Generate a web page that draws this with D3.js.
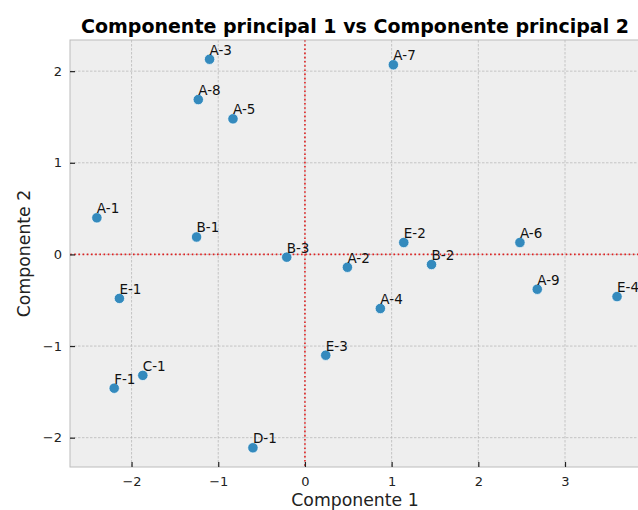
<!DOCTYPE html>
<html>
<head>
<meta charset="utf-8">
<script src="https://cdn.jsdelivr.net/npm/d3@7"></script>
<style>
  html, body { margin: 0; padding: 0; background: #fff; overflow: hidden; }
  text { font-family: "DejaVu Sans", sans-serif; }
</style>
</head>
<body>
<svg id="chart" width="638" height="510"></svg>
<script>
const labels = ["A-1","A-2","A-3","A-4","A-5","A-6","A-7","A-8","A-9","B-1","B-2","B-3","C-1","D-1","E-1","E-2","E-3","E-4","F-1"];
const pc1 = [-2.40, 0.49, -1.10, 0.87, -0.83, 2.48, 1.02, -1.23, 2.68, -1.25, 1.46, -0.21, -1.87, -0.60, -2.14, 1.14, 0.24, 3.60, -2.20];
const pc2 = [0.40, -0.14, 2.13, -0.59, 1.48, 0.13, 2.07, 1.69, -0.38, 0.19, -0.11, -0.03, -1.32, -2.11, -0.48, 0.13, -1.10, -0.46, -1.46];
const xTicks = [-2, -1, 0, 1, 2, 3];
const yTicks = [-2, -1, 0, 1, 2];
const title = "Componente principal 1 vs Componente principal 2";
const xLabel = "Componente 1";
const yLabel = "Componente 2";

const svg = d3.select("#chart");
const L = 70, R = 640, T = 40, B = 467;
const x = d3.scaleLinear().domain([-2.71, 3.865]).range([L, R]);
const y = d3.scaleLinear().domain([-2.32, 2.34]).range([B, T]);

// background
svg.append("rect").attr("x", L).attr("y", T).attr("width", R - L).attr("height", B - T).attr("fill", "#eeeeee");

// grid
const grid = svg.append("g");
grid.selectAll("line.gx").data(xTicks).join("line")
  .attr("x1", d => x(d)).attr("x2", d => x(d)).attr("y1", T).attr("y2", B)
  .attr("stroke", "#b2b2b2").attr("stroke-width", 0.7).attr("stroke-dasharray", "2.5,1.5");
grid.selectAll("line.gy").data(yTicks).join("line")
  .attr("y1", d => y(d)).attr("y2", d => y(d)).attr("x1", L).attr("x2", R)
  .attr("stroke", "#b2b2b2").attr("stroke-width", 0.7).attr("stroke-dasharray", "2.5,1.5");

// reference lines at 0
svg.append("line").attr("x1", x(0)).attr("x2", x(0)).attr("y1", T).attr("y2", B)
  .attr("stroke", "#e02020").attr("stroke-width", 1.6).attr("stroke-dasharray", "1.6,2.6");
svg.append("line").attr("y1", y(0)).attr("y2", y(0)).attr("x1", L).attr("x2", R)
  .attr("stroke", "#e02020").attr("stroke-width", 1.6).attr("stroke-dasharray", "1.6,2.6");

// border
svg.append("rect").attr("x", L).attr("y", T).attr("width", R - L).attr("height", B - T)
  .attr("fill", "none").attr("stroke", "#bcbcbc").attr("stroke-width", 1);

// axes (ticks inward)
const xAxis = d3.axisBottom(x).tickValues(xTicks).tickSizeInner(-5).tickSizeOuter(0).tickPadding(10)
  .tickFormat(d => d < 0 ? "\u2212" + Math.abs(d) : d);
const gx = svg.append("g").attr("transform", `translate(0,${B})`).call(xAxis);
gx.select(".domain").remove();
gx.selectAll(".tick line").attr("stroke", "#222").attr("stroke-width", 1.2);
gx.selectAll(".tick text").attr("font-size", 13).attr("fill", "#222").attr("font-family", "DejaVu Sans");

const yAxis = d3.axisLeft(y).tickValues(yTicks).tickSizeInner(-5).tickSizeOuter(0).tickPadding(8)
  .tickFormat(d => d < 0 ? "\u2212" + Math.abs(d) : d);
const gy = svg.append("g").attr("transform", `translate(${L},0)`).call(yAxis);
gy.select(".domain").remove();
gy.selectAll(".tick line").attr("stroke", "#222").attr("stroke-width", 1.2);
gy.selectAll(".tick text").attr("font-size", 13).attr("fill", "#222").attr("font-family", "DejaVu Sans");

// points
const data = labels.map((l, i) => ({ l, a: pc1[i], b: pc2[i] }));
svg.append("g").selectAll("circle").data(data).join("circle")
  .attr("cx", d => x(d.a)).attr("cy", d => y(d.b)).attr("r", 5.2)
  .attr("fill", "#348ABD").attr("stroke", "#ffffff").attr("stroke-width", 0.7);

// point labels
svg.append("g").selectAll("text").data(data).join("text")
  .attr("x", d => x(d.a)).attr("y", d => y(d.b + 0.05))
  .attr("font-size", 13.5).attr("fill", "#111").text(d => d.l);

// title
svg.append("text").attr("x", (L + R) / 2).attr("y", 33).attr("text-anchor", "middle")
  .attr("font-size", 19).attr("font-weight", "bold").attr("fill", "#000").text(title);

// axis labels
svg.append("text").attr("x", (L + R) / 2).attr("y", 506).attr("text-anchor", "middle")
  .attr("font-size", 17.3).attr("fill", "#222").text(xLabel);
svg.append("text").attr("transform", `translate(30,${(T + B) / 2}) rotate(-90)`).attr("text-anchor", "middle")
  .attr("font-size", 17.3).attr("fill", "#222").text(yLabel);
</script>
</body>
</html>
